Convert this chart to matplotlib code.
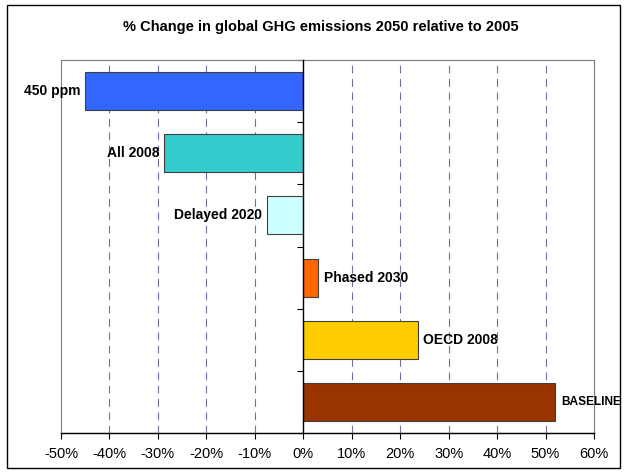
import matplotlib
matplotlib.use('Agg')
import matplotlib.pyplot as plt
from matplotlib.patches import Rectangle
from matplotlib.ticker import FuncFormatter

# scenario results, % change 2050 vs 2005
scenarios = ['450 ppm', 'All 2008', 'Delayed 2020', 'Phased 2030', 'OECD 2008', 'BASELINE']
changes = [-45, -28.7, -7.5, 3.1, 23.6, 52]
colours = ['#3366FF', '#33CCCC', '#CCFFFF', '#FF6600', '#FFCC00', '#993300']
xticks = list(range(-50, 70, 10))

plt.rcParams['font.family'] = ['Liberation Sans', 'DejaVu Sans']

fig = plt.figure(figsize=(6.26, 4.72), dpi=100)
ax = fig.add_axes([61/626, 39/472, 533/626, 373/472])

ypos = list(range(len(scenarios)))
ax.barh(ypos, changes, height=0.61, color=colours, edgecolor='#404040', linewidth=0.8, zorder=3)
ax.set_ylim(len(scenarios) - 0.5, -0.5)
ax.set_xlim(-50, 60)

# value labels beside the bar ends
labels = []
for y, v, name in zip(ypos, changes, scenarios):
    if v < 0:
        t = ax.text(v - 1.0, y, name, ha='right', va='center', fontsize=10, fontweight='bold', zorder=4)
    else:
        t = ax.text(v + 1.2, y, name, ha='left', va='center', fontsize=10, fontweight='bold',
                    zorder=4, clip_on=False)
    labels.append(t)

# dashed grid
for x in xticks[1:-1]:
    if x != 0:
        ax.axvline(x, color='#7070A0', linestyle=(0, (7, 5)), linewidth=0.8, zorder=1)

ax.set_xticks(xticks)
ax.xaxis.set_major_formatter(FuncFormatter(lambda v, p: f'{v:.0f}%'))
ax.tick_params(axis='x', direction='out', length=4, labelsize=10.5, pad=6, color='black')

ax.set_yticks([i - 0.5 for i in range(len(scenarios) + 1)])
ax.set_yticklabels([])
ax.tick_params(axis='y', direction='out', length=4, color='black')

for side in ('top', 'right'):
    ax.spines[side].set_color('#808080')
    ax.spines[side].set_linewidth(0.8)
ax.spines['bottom'].set_color('black')
ax.spines['bottom'].set_linewidth(1.0)
ax.spines['left'].set_position(('data', 0))
ax.spines['left'].set_color('black')
ax.spines['left'].set_linewidth(1.0)
ax.spines['left'].set_zorder(5)

# grey frame on the left edge of the plot area
ax.add_patch(Rectangle((0, 0), 1, 1, transform=ax.transAxes, fill=False,
                       edgecolor='#808080', linewidth=0.8, zorder=0, clip_on=False))

fig.text(321/626, 1 - 27/472, '% Change in global GHG emissions 2050 relative to 2005',
         ha='center', va='center', fontsize=10.5, fontweight='bold')

# chart border
fig.patches.append(Rectangle((7/626, 4/472), 613/626, 463/472, transform=fig.transFigure,
                             fill=False, edgecolor='black', linewidth=1.0))

# shrink any label that would run past the right edge
renderer = fig.canvas.get_renderer()
for t in labels:
    while t.get_window_extent(renderer).x1 > 623 and t.get_fontsize() > 6:
        t.set_fontsize(t.get_fontsize() - 0.2)

fig.savefig('out.png', dpi=100)
